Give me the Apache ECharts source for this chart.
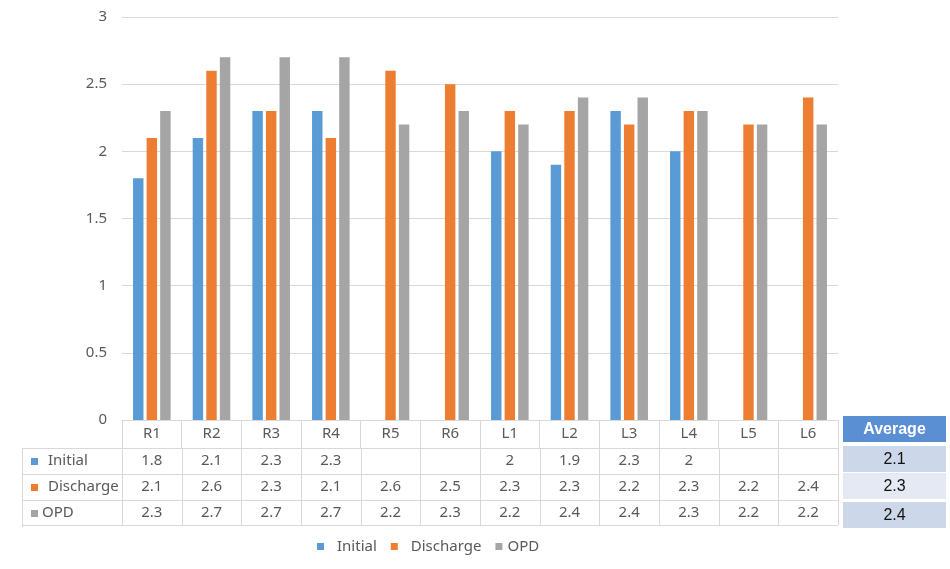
<!DOCTYPE html>
<html>
<head>
<meta charset="utf-8">
<script src="https://cdn.jsdelivr.net/npm/echarts@6/dist/echarts.min.js"></script>
<style>html,body{margin:0;padding:0;background:#fff}#c{width:950px;height:569px}</style>
</head>
<body>
<div id="c"></div>
<script>
const categories = ['R1','R2','R3','R4','R5','R6','L1','L2','L3','L4','L5','L6'];
const seriesNames = ['Initial','Discharge','OPD'];
const initialValues = [1.8,2.1,2.3,2.3,null,null,2,1.9,2.3,2,null,null];
const dischargeValues = [2.1,2.6,2.3,2.1,2.6,2.5,2.3,2.3,2.2,2.3,2.2,2.4];
const opdValues = [2.3,2.7,2.7,2.7,2.2,2.3,2.2,2.4,2.4,2.3,2.2,2.2];
const averageTitle = 'Average';
const averageValues = [2.1,2.3,2.4];
const colors = ['#5B9BD5','#ED7D31','#A5A5A5'];

const FONT = '"Noto Sans", "Open Sans", sans-serif';
const TXT = '#595959';
const LINE = '#d9d9d9';

const chart = echarts.init(document.getElementById('c'), null, {renderer:'canvas'});
const allValues = [initialValues, dischargeValues, opdValues];

const option = {
  animation: false,
  color: colors,
  textStyle: {fontFamily: FONT},
  grid: {left: 122, right: 112, top: 17, bottom: 149, containLabel: false},
  legend: {
    data: seriesNames.map((n, i) => ({name: n, textStyle: {padding: i === 2 ? [0,0,0,0] : [0,0,0,8]}})),
    left: 312, top: 534, icon: 'rect', itemWidth: 7, itemHeight: 7, itemGap: 14,
    textStyle: {color: TXT, fontSize: 15, fontFamily: FONT}
  },
  xAxis: {
    type: 'category', data: categories,
    axisLine: {lineStyle: {color: LINE}},
    axisTick: {show: true, length: 28, lineStyle: {color: LINE}, interval: 0},
    axisLabel: {color: TXT, fontSize: 15, margin: 6, fontFamily: FONT}
  },
  yAxis: {
    type: 'value', min: 0, max: 3, interval: 0.5,
    axisLine: {show: false}, axisTick: {show: false},
    splitLine: {lineStyle: {color: LINE}},
    axisLabel: {color: TXT, fontSize: 15, margin: 15, fontFamily: FONT}
  },
  series: seriesNames.map((n, i) => ({
    name: n, type: 'bar', data: allValues[i], barWidth: '17.5%', barGap: '30%'
  }))
};
chart.setOption(option);

function crisp(v){ return Math.round(v) + 0.5; }
const cx0 = chart.convertToPixel({xAxisIndex:0}, 0);
const cx1 = chart.convertToPixel({xAxisIndex:0}, 1);
const bw = cx1 - cx0;
const tLeft = cx0 - bw/2;
const tRight = tLeft + bw*categories.length;
const yBase = chart.convertToPixel({yAxisIndex:0}, 0);
const tableOuterLeft = 22;
const rowTops = [yBase + 28, yBase + 54, yBase + 80, yBase + 105];

const g = [];
rowTops.forEach(y => g.push({type:'line', silent:true, shape:{x1:tableOuterLeft, y1:crisp(y), x2:tRight, y2:crisp(y)}, style:{stroke:LINE, lineWidth:1}}));
for (let k = 0; k <= categories.length; k++) {
  const x = crisp(tLeft + k*bw);
  g.push({type:'line', silent:true, shape:{x1:x, y1:rowTops[0], x2:x, y2:rowTops[3]}, style:{stroke:LINE, lineWidth:1}});
}
g.push({type:'line', silent:true, shape:{x1:crisp(tableOuterLeft), y1:rowTops[0], x2:crisp(tableOuterLeft), y2:rowTops[3]+2}, style:{stroke:LINE, lineWidth:1}});

seriesNames.forEach((n, r) => {
  const yc = (rowTops[r] + rowTops[r+1]) / 2;
  g.push({type:'rect', silent:true, shape:{x:31, y:Math.round(yc)-3, width:7, height:7}, style:{fill:colors[r]}});
  g.push({type:'text', silent:true, style:{text:n, x: r===2 ? 42 : 48, y:yc, fill:TXT, font:'15px ' + FONT, align:'left', verticalAlign:'middle', textAlign:'left', textVerticalAlign:'middle'}});
  allValues[r].forEach((v, i) => {
    if (v === null || v === undefined) return;
    const x = chart.convertToPixel({xAxisIndex:0}, i);
    g.push({type:'text', silent:true, style:{text:String(v), x:x, y:yc, fill:TXT, font:'15px ' + FONT, align:'center', verticalAlign:'middle', textAlign:'center', textVerticalAlign:'middle'}});
  });
});

const ax = 843, aw = 103;
const aRows = [[416,26,'#5b8fd3'],[446,26,'#cdd7ea'],[473,26,'#e4e9f4'],[502,26,'#cdd7ea']];
aRows.forEach((r, i) => {
  g.push({type:'rect', silent:true, shape:{x:ax, y:r[0], width:aw, height:r[1]}, style:{fill:r[2]}});
  const txt = i === 0 ? averageTitle : String(averageValues[i-1]);
  g.push({type:'text', silent:true, style:{text:txt, x:ax+aw/2, y:r[0]+r[1]/2+1, fill: i===0 ? '#ffffff' : '#111111',
    font: (i===0 ? 'bold ' : '') + '16px "Liberation Sans", Arial, sans-serif', align:'center', verticalAlign:'middle', textAlign:'center', textVerticalAlign:'middle'}});
});

chart.setOption({graphic: {elements: g}});
</script>
</body>
</html>
